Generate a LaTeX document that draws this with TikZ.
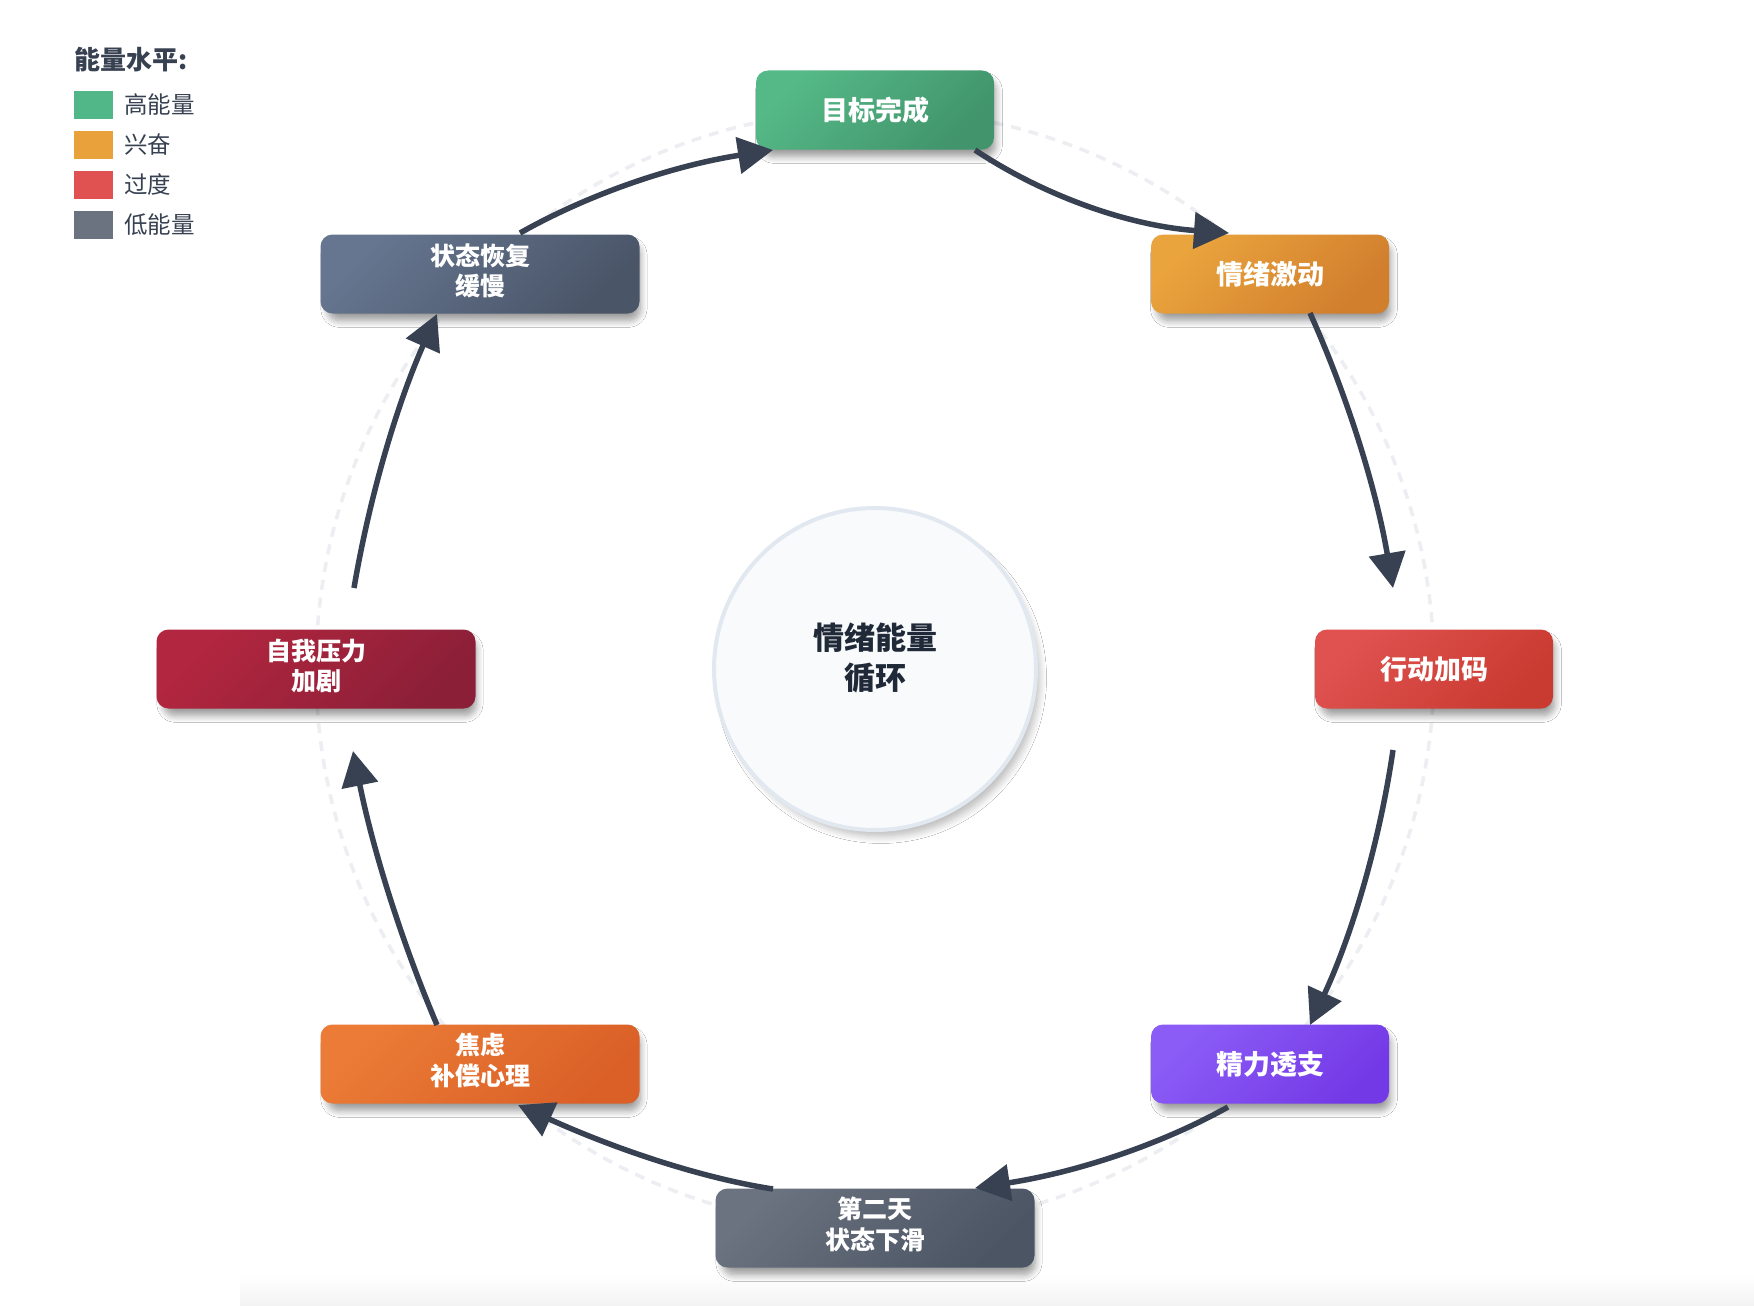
\documentclass[tikz,border=0pt]{standalone}
\usepackage{fontspec}
\setmainfont{Noto Sans CJK SC}
\usetikzlibrary{arrows.meta,shadows.blur,calc}
\definecolor{gA}{HTML}{55B987}\definecolor{gB}{HTML}{41946B}
\definecolor{oA}{HTML}{EAA43D}\definecolor{oB}{HTML}{D17E2D}
\definecolor{rA}{HTML}{E05250}\definecolor{rB}{HTML}{C93A30}
\definecolor{pA}{HTML}{8B5CF6}\definecolor{pB}{HTML}{7439E6}
\definecolor{kA}{HTML}{6B7280}\definecolor{kB}{HTML}{4B5563}
\definecolor{fA}{HTML}{EB7B36}\definecolor{fB}{HTML}{DA6027}
\definecolor{cA}{HTML}{B3263F}\definecolor{cB}{HTML}{8C1F38}
\definecolor{sA}{HTML}{667690}\definecolor{sB}{HTML}{4A5568}
\definecolor{legG}{HTML}{52B788}\definecolor{legO}{HTML}{E9A23B}
\definecolor{legR}{HTML}{E05252}\definecolor{legK}{HTML}{6B7280}
\definecolor{arrowc}{HTML}{374151}
\definecolor{ringc}{HTML}{ECEEF1}
\definecolor{cfill}{HTML}{F8FAFC}
\definecolor{cborder}{HTML}{E2E8F0}
\definecolor{ctext}{HTML}{1F2937}
\definecolor{ltext}{HTML}{374151}
\definecolor{stripc}{HTML}{F3F3F3}
\newcommand\twolines[2]{\begin{tabular}{@{}c@{}}#1\\#2\end{tabular}}
\tikzset{
  box/.style={rounded corners=12pt, minimum height=79pt, align=center, text=white,
    inner sep=0pt, font=\bfseries\fontsize{27}{30}\selectfont,
    blur shadow={shadow xshift=4pt, shadow yshift=-8pt, shadow blur radius=7pt,
      shadow blur steps=10, shadow opacity=40, shadow scale=0.98}},
  onebox/.style={box, minimum width=238pt},
  twobox/.style={box, minimum width=319pt, font=\bfseries\fontsize{25}{30}\selectfont},
  grad/.style 2 args={top color=#1, bottom color=#2, shading angle=45},
  flow/.style={draw=arrowc, line width=5.5pt, -{Triangle[length=35pt,width=36pt]}},
  ring/.style={draw=ringc, line width=3.5pt, dash pattern=on 10pt off 8pt},
  legsq/.style={minimum width=39pt, minimum height=28pt, inner sep=0pt},
  leglab/.style={anchor=west, inner sep=0pt, text=ltext, font=\fontsize{23.5}{28}\selectfont},
}
\begin{document}
\begin{tikzpicture}[x=1pt,y=-1pt]
\useasboundingbox (0,0) rectangle (1754,1306);
\fill[white] (0,0) rectangle (1754,1306);
\fill[top color=white, bottom color=stripc] (240,1274) rectangle (1754,1306);

% centre and ring
\coordinate (o) at (875,669);
\draw[ring] (o) circle[radius=559];
\node[circle, minimum size=322pt, fill=cfill, draw=cborder, line width=4pt,
  blur shadow={shadow xshift=6pt, shadow yshift=-9pt, shadow blur radius=8pt,
  shadow blur steps=10, shadow opacity=30, shadow scale=0.98}] (c) at (o) {};
\node[align=center, text=ctext, font=\bfseries\fontsize{31}{40}\selectfont] (ct) at (875,658) {情绪能量\\循环};

% nodes
\node[onebox, grad={gA}{gB}] (n1) at (875,110) {目标完成};
\node[onebox, grad={oA}{oB}] (n2) at (1270,274) {情绪激动};
\node[onebox, grad={rA}{rB}] (n3) at (1434,669) {行动加码};
\node[onebox, grad={pA}{pB}] (n4) at (1270,1064) {精力透支};
\node[twobox, grad={kA}{kB}] (n5) at (875,1228) {\twolines{第二天}{状态下滑}};
\node[twobox, grad={fA}{fB}] (n6) at (480,1064) {\twolines{焦虑}{补偿心理}};
\node[twobox, grad={cA}{cB}] (n7) at (316,669) {\twolines{自我压力}{加剧}};
\node[twobox, grad={sA}{sB}] (n8) at (480,274) {\twolines{状态恢复}{缓慢}};

% connectors
\draw[flow] ($(n1.center)+(100,40)$) .. controls (1047.7,198.3) and (1132.3,226) .. ($(n2.center)+(-41,-41)$);
\draw[flow] ($(n2.center)+(40,39)$) .. controls (1349,400) and (1376.7,491.7) .. ($(n3.center)+(-41,-81)$);
\draw[flow] ($(n3.center)+(-41,81)$) .. controls (1379.3,843.7) and (1351.7,935.3) .. ($(n4.center)+(40,-39)$);
\draw[flow] ($(n4.center)+(-42,43)$) .. controls (1158.7,1145.7) and (1074.3,1172.7) .. ($(n5.center)+(100,-40)$);
\draw[flow] ($(n5.center)+(-102,-39)$) .. controls (703.3,1178.3) and (618.3,1150.3) .. ($(n6.center)+(38,41)$);
\draw[flow] ($(n6.center)+(-43,-39)$) .. controls (400.3,938.3) and (372.3,847) .. ($(n7.center)+(37,82)$);
\draw[flow] ($(n7.center)+(38,-81)$) .. controls (370,494) and (397.7,402.7) .. ($(n8.center)+(-43,40)$);
\draw[flow] ($(n8.center)+(40,-41)$) .. controls (590.7,193) and (675,165.3) .. ($(n1.center)+(-102,40)$);

% legend
\node[anchor=west, inner sep=0pt, text=ltext, font=\bfseries\fontsize{26}{30}\selectfont] (lt) at (74,60) {能量水平:};
\node[legsq, fill=legG] (s1) at (93.5,105) {};
\node[legsq, fill=legO] (s2) at (93.5,145) {};
\node[legsq, fill=legR] (s3) at (93.5,185) {};
\node[legsq, fill=legK] (s4) at (93.5,225) {};
\node[leglab] (l1) at (124,105) {高能量};
\node[leglab] (l2) at (124,145) {兴奋};
\node[leglab] (l3) at (124,185) {过度};
\node[leglab] (l4) at (124,225) {低能量};
\end{tikzpicture}
\end{document}
